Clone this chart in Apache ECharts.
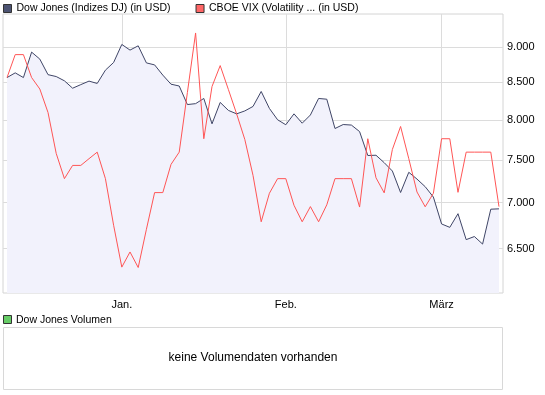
<!DOCTYPE html>
<html><head><meta charset="utf-8">
<script src="https://cdn.jsdelivr.net/npm/echarts@6/dist/echarts.min.js"></script>
<style>html,body{margin:0;padding:0;background:#fff}#c{width:545px;height:395px}</style>
</head><body><div id="c"></div>
<script>
// Trading days shown on the chart
const dates = [
  '2008-12-11','2008-12-12','2008-12-15','2008-12-16','2008-12-17','2008-12-18','2008-12-19','2008-12-22','2008-12-23','2008-12-24','2008-12-26','2008-12-29','2008-12-30','2008-12-31',
  '2009-01-02','2009-01-05','2009-01-06','2009-01-07','2009-01-08','2009-01-09','2009-01-12','2009-01-13','2009-01-14','2009-01-15','2009-01-16','2009-01-20','2009-01-21','2009-01-22','2009-01-23','2009-01-26','2009-01-27','2009-01-28','2009-01-29','2009-01-30',
  '2009-02-02','2009-02-03','2009-02-04','2009-02-05','2009-02-06','2009-02-09','2009-02-10','2009-02-11','2009-02-12','2009-02-13','2009-02-17','2009-02-18','2009-02-19','2009-02-20','2009-02-23','2009-02-24','2009-02-25','2009-02-26','2009-02-27',
  '2009-03-02','2009-03-03','2009-03-04','2009-03-05','2009-03-06','2009-03-09','2009-03-10','2009-03-11'
];
// Dow Jones (Indizes DJ), in USD
const dowJones = [
  8565,8630,8565,8924,8824,8605,8579,8520,8419,8468,8516,8484,8668,8776,
  9035,8953,9015,8770,8742,8599,8474,8449,8200,8212,8281,7949,8228,8123,8078,8116,8175,8375,8149,8001,
  7937,8078,7957,8063,8281,8271,7889,7940,7933,7850,7553,7556,7466,7366,7115,7351,7271,7182,7063,
  6763,6726,6876,6594,6627,6547,6926,6930
];
// CBOE VIX, relative performance plotted on the Dow Jones scale
const vix = [
  8565,8888,8888,8565,8408,8096,7578,7276,7433,7433,7514,7594,7276,6749,
  6308,6464,6304,6705,7114,7114,7445,7594,8361,9204,7760,8442,8732,8401,8079,7751,7315,6787,7106,7276,
  7276,6970,6787,6955,6787,6975,7276,7276,7276,6950,7760,7286,7111,7627,7915,7514,7121,6953,7106,
  7760,7760,7117,7594,7594,7594,7594,6955
];
const yTicks = [6500,7000,7500,8000,8500,9000];
const monthNames = {'01':'Jan.','02':'Feb.','03':'März'};
const seriesNames = ['Dow Jones (Indizes DJ) (in USD)','CBOE VIX (Volatility ... (in USD)'];
const yRange = [6050, 9490];

const monthStarts = [];
dates.forEach((d,i)=>{ if(i>0 && d.slice(5,7)!==dates[i-1].slice(5,7)) monthStarts.push(i); });

const FONT = 'Liberation Sans, Arial, sans-serif';
const toPairs = arr => arr.map((v,i)=>[i, Math.log(v)]);
const fmtNum = v => String(Math.round(Math.exp(v))).replace(/\B(?=(\d{3})+(?!\d))/g,'.');

const chart = echarts.init(document.getElementById('c'), null, {renderer:'canvas'});
chart.setOption({
  animation:false,
  textStyle:{fontFamily:FONT},
  legend:{
    left:3, top:3, padding:0, icon:'rect', itemWidth:8, itemHeight:8, itemGap:25,
    textStyle:{fontSize:10.5,color:'#000',fontFamily:FONT},
    itemStyle:{borderColor:'#333',borderWidth:1},
    data:seriesNames
  },
  grid:{left:3,right:42,top:14,bottom:102,show:true,borderColor:'#d4d4d4',borderWidth:1,backgroundColor:'transparent'},
  xAxis:{
    type:'value', min:-0.49, max:dates.length-1+0.49,
    axisLine:{show:false},
    axisTick:{show:false, customValues:monthStarts},
    splitLine:{show:true,lineStyle:{color:'#dcdcdc',width:1}},
    axisLabel:{customValues:monthStarts, margin:6, fontSize:11, color:'#000', fontFamily:FONT,
      formatter:v=>monthNames[dates[Math.round(v)].slice(5,7)]}
  },
  yAxis:{
    type:'value', position:'right', min:Math.log(yRange[0]), max:Math.log(yRange[1]),
    axisLine:{show:false},
    axisTick:{show:false, customValues:yTicks.map(Math.log)},
    splitLine:{show:true,lineStyle:{color:'#dcdcdc',width:1}},
    axisLabel:{customValues:yTicks.map(Math.log), margin:4, fontSize:11, color:'#000', fontFamily:FONT,
      formatter:fmtNum}
  },
  series:[
    {name:seriesNames[0], type:'line', data:toPairs(dowJones), showSymbol:false, symbol:'none',
     color:'#4d5473', lineStyle:{color:'#3f4566',width:1},
     areaStyle:{color:'#f2f2fc',opacity:1,origin:'start'}, z:2},
    {name:seriesNames[1], type:'line', data:toPairs(vix), showSymbol:false, symbol:'none',
     color:'#ff6666', lineStyle:{color:'#ff5555',width:1}, z:3}
  ],
  graphic:[
    {type:'rect', shape:{x:3.5,y:315.5,width:8,height:8}, style:{fill:'#66cc66',stroke:'#333',lineWidth:1}},
    {type:'text', x:16, y:320, style:{text:'Dow Jones Volumen', fontSize:10.5, fontFamily:FONT, fill:'#000', verticalAlign:'middle'}},
    {type:'rect', shape:{x:3.5,y:327.5,width:499,height:62}, style:{fill:'none',stroke:'#d8d8d8',lineWidth:1}},
    {type:'text', x:253, y:358, style:{text:'keine Volumendaten vorhanden', fontSize:12, fontFamily:FONT, fill:'#000', align:'center', verticalAlign:'middle'}}
  ]
});
</script>
</body></html>
